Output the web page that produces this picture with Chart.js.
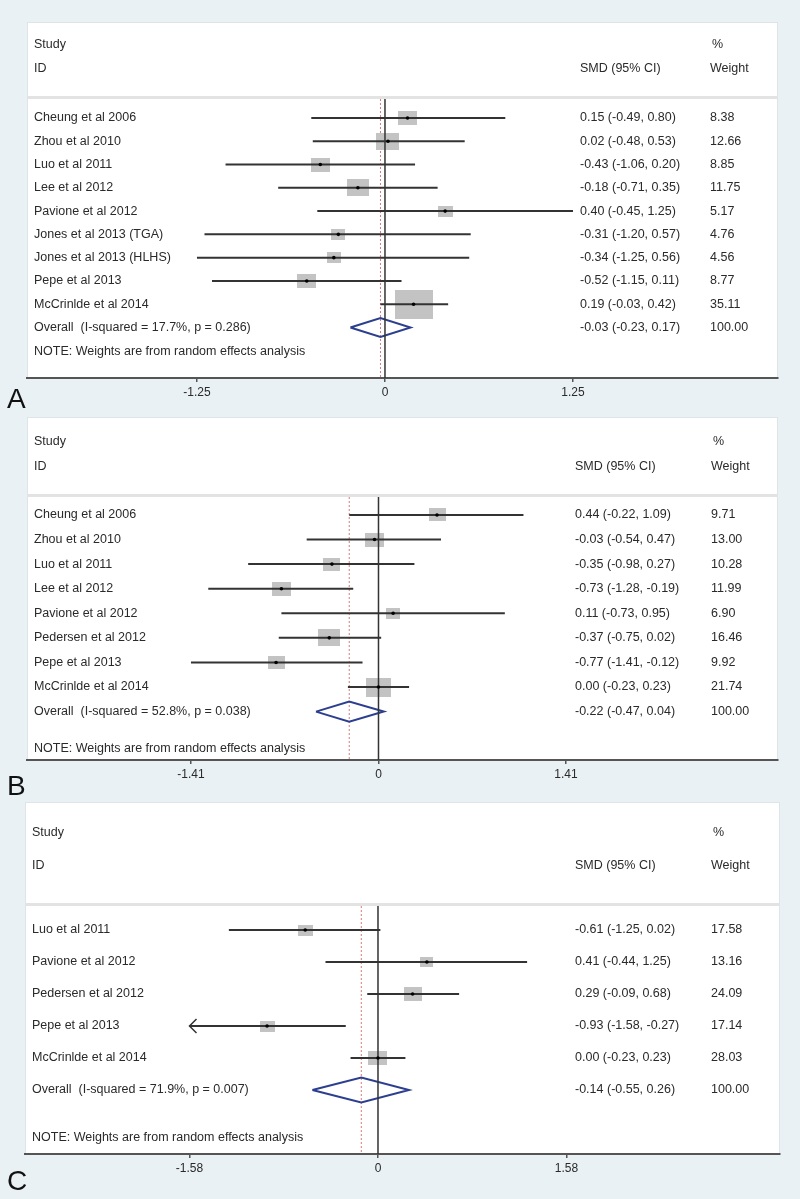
<!DOCTYPE html>
<html>
<head>
<meta charset="utf-8">
<title>Forest plots</title>
<script src="https://cdn.jsdelivr.net/npm/chart.js@4.4.0/dist/chart.umd.min.js"></script>
<style>
    html, body { margin: 0; padding: 0; background: #e9f1f4; }
    .panel { position: absolute; left: 0; width: 800px; }
    canvas { display: block; }
</style>
</head>
<body>
<div class="panel" style="top:0"><canvas id="chartA" width="800" height="412"></canvas></div>
<div class="panel" style="top:412px"><canvas id="chartB" width="800" height="388"></canvas></div>
<div class="panel" style="top:800px"><canvas id="chartC" width="800" height="399"></canvas></div>
<script>
/* ===========================
   DATA
=========================== */
const studiesA = ["Cheung et al 2006", "Zhou et al 2010", "Luo et al 2011", "Lee et al 2012", "Pavione et al 2012",
    "Jones et al 2013 (TGA)", "Jones et al 2013 (HLHS)", "Pepe et al 2013", "McCrinlde et al 2014"];
const smdA = [0.15, 0.02, -0.43, -0.18, 0.40, -0.31, -0.34, -0.52, 0.19];
const lowerA = [-0.49, -0.48, -1.06, -0.71, -0.45, -1.20, -1.25, -1.15, -0.03];
const upperA = [0.80, 0.53, 0.20, 0.35, 1.25, 0.57, 0.56, 0.11, 0.42];
const weightsA = [8.38, 12.66, 8.85, 11.75, 5.17, 4.76, 4.56, 8.77, 35.11];
const clippedA = [false, false, false, false, false, false, false, false, false];
const overallA = [-0.03, -0.23, 0.17];
const overallLabelA = "Overall  (I-squared = 17.7%, p = 0.286)";
const ticksA = [-1.25, 0, 1.25];

const studiesB = ["Cheung et al 2006", "Zhou et al 2010", "Luo et al 2011", "Lee et al 2012", "Pavione et al 2012",
    "Pedersen et al 2012", "Pepe et al 2013", "McCrinlde et al 2014"];
const smdB = [0.44, -0.03, -0.35, -0.73, 0.11, -0.37, -0.77, 0.00];
const lowerB = [-0.22, -0.54, -0.98, -1.28, -0.73, -0.75, -1.41, -0.23];
const upperB = [1.09, 0.47, 0.27, -0.19, 0.95, 0.02, -0.12, 0.23];
const weightsB = [9.71, 13.00, 10.28, 11.99, 6.90, 16.46, 9.92, 21.74];
const clippedB = [false, false, false, false, false, false, false, false];
const overallB = [-0.22, -0.47, 0.04];
const overallLabelB = "Overall  (I-squared = 52.8%, p = 0.038)";
const ticksB = [-1.41, 0, 1.41];

const studiesC = ["Luo et al 2011", "Pavione et al 2012", "Pedersen et al 2012", "Pepe et al 2013", "McCrinlde et al 2014"];
const smdC = [-0.61, 0.41, 0.29, -0.93, 0.00];
const lowerC = [-1.25, -0.44, -0.09, -1.58, -0.23];
const upperC = [0.02, 1.25, 0.68, -0.27, 0.23];
const weightsC = [17.58, 13.16, 24.09, 17.14, 28.03];
const clippedC = [false, false, false, true, false];
const overallC = [-0.14, -0.55, 0.26];
const overallLabelC = "Overall  (I-squared = 71.9%, p = 0.007)";
const ticksC = [-1.58, 0, 1.58];

const NOTE = "NOTE: Weights are from random effects analysis";
const FONT = '"Liberation Sans", Arial, sans-serif';

/* ===========================
   HELPERS
=========================== */
function fmt(v) {
    return v.toFixed(2);
}

function boxImage(weight, k) {
    const w = Math.max(4, Math.round(k * Math.sqrt(weight)));
    const h = Math.max(3, Math.round(w / 1.33));
    const c = document.createElement("canvas");
    c.width = w;
    c.height = h;
    const g = c.getContext("2d");
    g.fillStyle = "#c3c3c3";
    g.fillRect(0, 0, w, h);
    return c;
}

/* ===========================
   PANEL
=========================== */
function drawPanel(id, p) {
    const rows = p.names.map((_, i) => i + 1);
    const overallRow = p.names.length + 1;
    const [oEst, oLo, oHi] = p.overall;

    const datasets = [];

    // study point estimates (small black dot)
    datasets.push({
        data: p.smd.map((v, i) => ({ x: v, y: rows[i] })),
        pointRadius: 1.8, backgroundColor: "#000", borderWidth: 0, order: 0
    });

    // confidence intervals
    p.names.forEach((n, i) => {
        datasets.push({
            data: [{ x: p.lower[i], y: rows[i] }, { x: p.upper[i], y: rows[i] }],
            showLine: true, borderColor: "#333", borderWidth: 2, pointRadius: 0, order: 1
        });
    });

    // line of no effect
    datasets.push({
        data: [{ x: 0, y: p.yMin }, { x: 0, y: p.yMax }],
        showLine: true, borderColor: "#333", borderWidth: 1.5, pointRadius: 0, order: 2
    });

    // overall diamond
    datasets.push({
        data: [
            { x: oLo, y: overallRow }, { x: oEst, y: overallRow - p.dh },
            { x: oHi, y: overallRow }, { x: oEst, y: overallRow + p.dh },
            { x: oLo, y: overallRow }
        ],
        showLine: true, borderColor: "#2c3f8f", borderWidth: 2, pointRadius: 0, order: 2
    });

    // weight boxes
    datasets.push({
        data: p.smd.map((v, i) => ({ x: v, y: rows[i] })),
        pointStyle: p.weights.map(w => boxImage(w, p.k)),
        pointRadius: 8, order: 3
    });

    // overall estimate (red dashed)
    datasets.push({
        data: [{ x: oEst, y: p.yMin }, { x: oEst, y: p.yMax }],
        showLine: true, borderColor: "#d77a7a", borderWidth: 1, borderDash: [2, 2],
        pointRadius: 0, order: 5
    });

    const forestPlugin = {
        id: "forest_" + id,
        beforeDraw(chart) {
            const ctx = chart.ctx;
            const a = chart.chartArea;
            ctx.save();
            ctx.fillStyle = "#ffffff";
            ctx.fillRect(a.left, p.boxTop, a.right - a.left, a.bottom - p.boxTop);
            ctx.strokeStyle = "#dde5e8";
            ctx.lineWidth = 1;
            ctx.strokeRect(a.left + 0.5, p.boxTop + 0.5, a.right - a.left - 1, a.bottom - p.boxTop);
            // header separator
            ctx.fillStyle = "#e3e3e3";
            ctx.fillRect(a.left, a.top - 3, a.right - a.left, 3);
            ctx.restore();
        },
        afterDraw(chart) {
            const ctx = chart.ctx;
            const ys = chart.scales.y;
            const xs = chart.scales.x;
            ctx.save();
            ctx.font = "12.5px " + FONT;
            ctx.fillStyle = "#2a2a2a";
            ctx.textBaseline = "middle";
            ctx.textAlign = "left";

            ctx.fillText("Study", p.nameX, p.headY[0]);
            ctx.fillText("ID", p.nameX, p.headY[1]);
            ctx.fillText("SMD (95% CI)", p.smdX, p.headY[1]);
            ctx.fillText("%", p.wX + 2, p.headY[0]);
            ctx.fillText("Weight", p.wX, p.headY[1]);

            p.names.forEach((n, i) => {
                const y = ys.getPixelForValue(rows[i]);
                ctx.fillText(n, p.nameX, y);
                ctx.fillText(`${fmt(p.smd[i])} (${fmt(p.lower[i])}, ${fmt(p.upper[i])})`, p.smdX, y);
                ctx.fillText(fmt(p.weights[i]), p.wX, y);
            });

            const oy = ys.getPixelForValue(overallRow);
            ctx.fillText(p.overallLabel, p.nameX, oy);
            ctx.fillText(`${fmt(oEst)} (${fmt(oLo)}, ${fmt(oHi)})`, p.smdX, oy);
            ctx.fillText("100.00", p.wX, oy);

            ctx.fillText(NOTE, p.nameX, p.noteY);

            // arrows for clipped intervals
            ctx.strokeStyle = "#333";
            ctx.lineWidth = 1.5;
            p.clipped.forEach((c, i) => {
                if (!c) return;
                const x = xs.getPixelForValue(p.lower[i]);
                const y = ys.getPixelForValue(rows[i]);
                ctx.beginPath();
                ctx.moveTo(x + 7, y - 7);
                ctx.lineTo(x, y);
                ctx.lineTo(x + 7, y + 7);
                ctx.stroke();
            });

            // panel letter
            ctx.font = "28px " + FONT;
            ctx.fillStyle = "#111";
            ctx.textBaseline = "alphabetic";
            ctx.fillText(p.letter, 7, p.letterY);
            ctx.restore();
        }
    };

    return new Chart(document.getElementById(id), {
        type: "scatter",
        data: { datasets },
        options: {
            responsive: false,
            animation: false,
            events: [],
            layout: {
                autoPadding: false,
                padding: { top: p.pad[0], right: p.pad[1], bottom: p.pad[2], left: p.pad[3] }
            },
            plugins: { legend: { display: false }, tooltip: { enabled: false } },
            scales: {
                x: {
                    type: "linear",
                    min: p.xMin,
                    max: p.xMax,
                    afterBuildTicks: scale => { scale.ticks = p.ticks.map(v => ({ value: v })); },
                    afterFit: scale => { scale.height = 22; },
                    border: { display: true, color: "#555", width: 2 },
                    grid: { display: true, drawOnChartArea: false, drawTicks: true, tickLength: 4, color: "#555", lineWidth: 1.5 },
                    ticks: {
                        padding: 3,
                        color: "#2a2a2a",
                        font: { family: FONT, size: 12 },
                        callback: v => String(v)
                    }
                },
                y: {
                    type: "linear",
                    reverse: true,
                    min: p.yMin,
                    max: p.yMax,
                    display: false
                }
            }
        },
        plugins: [forestPlugin]
    });
}

/* ===========================
   INIT
=========================== */
drawPanel("chartA", {
    names: studiesA, smd: smdA, lower: lowerA, upper: upperA, weights: weightsA, clipped: clippedA,
    overall: overallA, overallLabel: overallLabelA, ticks: ticksA, letter: "A",
    pad: [99, 22, 12, 27], xMin: -2.380, xMax: 2.613, yMin: 0.185, yMax: 12.17,
    boxTop: 22, headY: [45, 69], noteY: 352, letterY: 408,
    nameX: 34, smdX: 580, wX: 710, k: 6.4, dh: 0.41
});

drawPanel("chartB", {
    names: studiesB, smd: smdB, lower: lowerB, upper: upperB, weights: weightsB, clipped: clippedB,
    overall: overallB, overallLabel: overallLabelB, ticks: ticksB, letter: "B",
    pad: [85, 22, 18, 27], xMin: -2.643, xMax: 3.004, yMin: 0.269, yMax: 10.97,
    boxTop: 5, headY: [30, 55], noteY: 337, letterY: 383,
    nameX: 34, smdX: 575, wX: 711, k: 5.35, dh: 0.41
});

drawPanel("chartC", {
    names: studiesC, smd: smdC, lower: lowerC, upper: upperC, weights: weightsC, clipped: clippedC,
    overall: overallC, overallLabel: overallLabelC, ticks: ticksC, letter: "C",
    pad: [106, 20, 23, 25], xMin: -2.959, xMax: 3.370, yMin: 0.25, yMax: 8.0,
    boxTop: 2, headY: [33, 66], noteY: 338, letterY: 390,
    nameX: 32, smdX: 575, wX: 711, k: 3.6, dh: 0.39
});
</script>
</body>
</html>
